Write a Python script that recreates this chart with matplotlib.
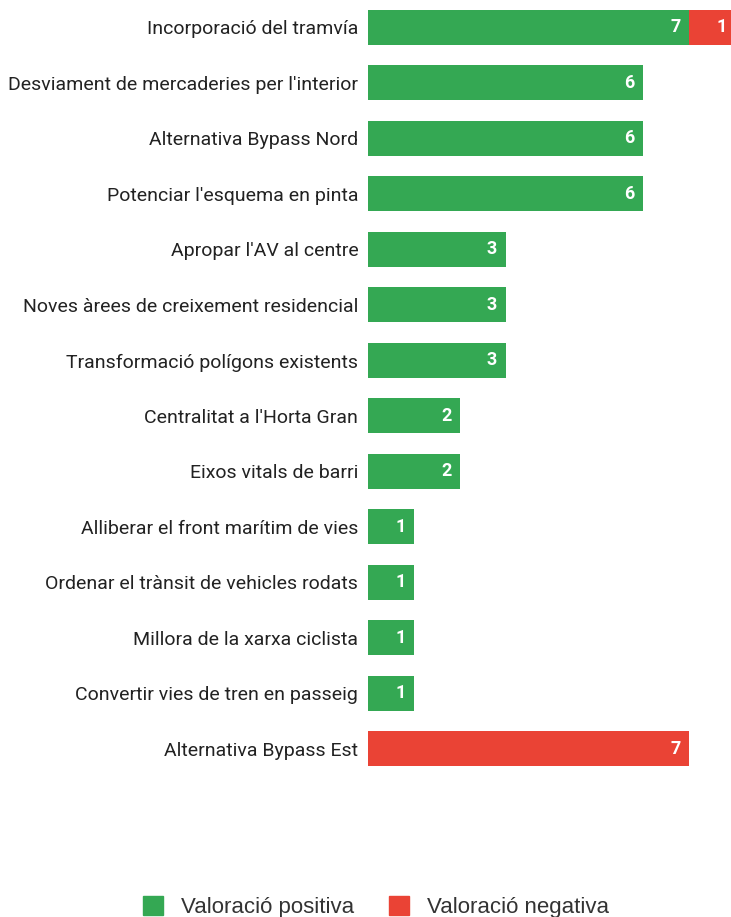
import matplotlib.pyplot as plt
from matplotlib.patches import Patch

CATEGORIES = [
    "Incorporació del tramvía",
    "Desviament de mercaderies per l'interior",
    "Alternativa Bypass Nord",
    "Potenciar l'esquema en pinta",
    "Apropar l'AV al centre",
    "Noves àrees de creixement residencial",
    "Transformació polígons existents",
    "Centralitat a l'Horta Gran",
    "Eixos vitals de barri",
    "Alliberar el front marítim de vies",
    "Ordenar el trànsit de vehicles rodats",
    "Millora de la xarxa ciclista",
    "Convertir vies de tren en passeig",
    "Alternativa Bypass Est",
]
POSITIVE = [7, 6, 6, 6, 3, 3, 3, 2, 2, 1, 1, 1, 1, 0]
NEGATIVE = [1, 0, 0, 0, 0, 0, 0, 0, 0, 0, 0, 0, 0, 7]
SERIES = ["Valoració positiva", "Valoració negativa"]

GREEN = "#34a853"
RED = "#ea4335"


def main():
    W, H = 731, 917
    fig = plt.figure(figsize=(W / 100, H / 100), dpi=100)

    left = 368 / W
    bottom = (H - 777) / H
    ax = fig.add_axes([left, bottom, 1 - left, 777 / H])

    y = list(range(len(CATEGORIES)))
    ax.barh(y, POSITIVE, height=0.63, color=GREEN, linewidth=0)
    ax.barh(y, NEGATIVE, left=POSITIVE, height=0.63, color=RED, linewidth=0)

    unit = (689 - 368) / 7
    ax.set_xlim(0, (W - 368) / unit)
    ax.set_ylim(13.505, -0.495)

    # value labels inside bar ends
    label_kw = dict(xytext=(-6, 0), textcoords="offset points", ha="right",
                    va="center", color="white", fontsize=13, fontweight="bold",
                    family="Roboto", annotation_clip=False)
    for i, (p, n) in enumerate(zip(POSITIVE, NEGATIVE)):
        if p:
            ax.annotate(str(p), (p, i), **label_kw)
        if n:
            ax.annotate(str(n), (p + n, i), **label_kw)

    ax.set_yticks(y)
    ax.set_yticklabels(CATEGORIES, family="Roboto", fontsize=14, color="#222222")
    ax.tick_params(axis="y", length=0, pad=7)
    ax.set_xticks([])
    for s in ax.spines.values():
        s.set_visible(False)

    handles = [Patch(color=GREEN), Patch(color=RED)]
    fig.legend(handles, SERIES, loc="center", bbox_to_anchor=(376 / W, 1 - 907 / H),
               ncol=2, frameon=False, prop={"family": "Liberation Sans", "size": 16},
               handlelength=0.9, handleheight=0.9, handletextpad=0.8,
               columnspacing=1.6, labelcolor="#333333")

    fig.savefig("out.png", dpi=100)


if __name__ == "__main__":
    main()
